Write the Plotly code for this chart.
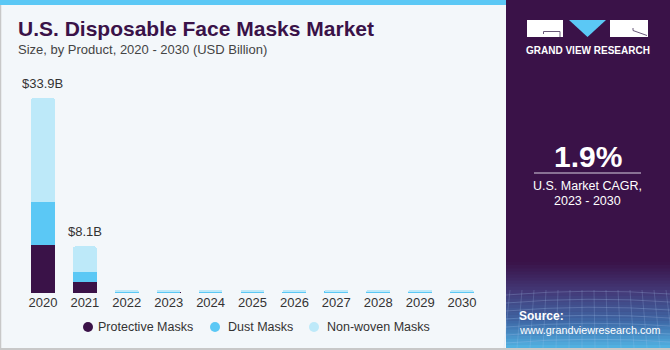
import plotly.graph_objects as go

W, H = 670, 350

years = [2020, 2021, 2022, 2023, 2024, 2025, 2026, 2027, 2028, 2029, 2030]
protective = [8.35, 1.95, 0.05, 0.05, 0.05, 0.05, 0.05, 0.06, 0.06, 0.06, 0.06]
dust = [7.45, 1.75, 0.14, 0.14, 0.15, 0.15, 0.15, 0.16, 0.16, 0.16, 0.17]
nonwoven = [18.10, 4.40, 0.17, 0.17, 0.17, 0.18, 0.18, 0.18, 0.19, 0.19, 0.19]
total_labels = {2020: "$33.9B", 2021: "$8.1B"}

series = [
    ("Protective Masks", protective, "#3a1248"),
    ("Dust Masks", dust, "#5bc8f5"),
    ("Non-woven Masks", nonwoven, "#bde9f9"),
]

PANEL = "#3a1248"
BG = "#f3f7fa"


def px(x):
    return x / W


def py(y):
    return 1 - y / H


fig = go.Figure()
for name, vals, color in series:
    fig.add_trace(go.Bar(x=years, y=vals, name=name, marker_color=color,
                         marker_line_width=0, width=0.57, showlegend=False))

shapes = []
annotations = []

# labels above the first two stacks
for yr, lab in total_labels.items():
    i = years.index(yr)
    tot = protective[i] + dust[i] + nonwoven[i]
    annotations.append(dict(x=yr, y=tot, xref="x", yref="y", text=lab, showarrow=False,
                            yanchor="bottom", yshift=5,
                            font=dict(size=13, color="#333333")))

# frame: top stripe, left and bottom borders
shapes.append(dict(type="rect", xref="paper", yref="paper", x0=0, x1=px(506), y0=py(5), y1=1,
                   fillcolor="#5bc8f5", line_width=0, layer="below"))
shapes.append(dict(type="line", xref="paper", yref="paper", x0=px(0.5), x1=px(0.5), y0=0, y1=py(5),
                   line=dict(color="#c8c8c8", width=1.5)))
shapes.append(dict(type="line", xref="paper", yref="paper", x0=0, x1=1, y0=py(349), y1=py(349),
                   line=dict(color="#c8c8c8", width=2)))

# right info panel
shapes.append(dict(type="rect", xref="paper", yref="paper", x0=px(506), x1=1, y0=py(348), y1=1,
                   fillcolor=PANEL, line_width=0, layer="below"))


def mix(c1, c2, t):
    a = [int(c1[i:i + 2], 16) for i in (1, 3, 5)]
    b = [int(c2[i:i + 2], 16) for i in (1, 3, 5)]
    return "#" + "".join(f"{round(a[k] + (b[k] - a[k]) * t):02x}" for k in range(3))


# gradient at the foot of the panel
g_top, g_bot = 262, 348
steps = 28
stops = [(0.0, PANEL), (0.35, "#433a78"), (0.7, "#3f6aa8"), (1.0, "#52b4e4")]
for s in range(steps):
    t = (s + 0.5) / steps
    for j in range(len(stops) - 1):
        if stops[j][0] <= t <= stops[j + 1][0]:
            lt = (t - stops[j][0]) / (stops[j + 1][0] - stops[j][0])
            col = mix(stops[j][1], stops[j + 1][1], lt)
            break
    y0 = g_top + (g_bot - g_top) * s / steps
    y1 = g_top + (g_bot - g_top) * (s + 1) / steps
    shapes.append(dict(type="rect", xref="paper", yref="paper", x0=px(506), x1=1,
                       y0=py(y1 + 0.5), y1=py(y0), fillcolor=col, line_width=0, layer="below"))

# faint mesh lines in the gradient
for k in range(7):
    yy = 292 + k * 8
    shapes.append(dict(type="path", xref="paper", yref="paper",
                       path=f"M {px(506)},{py(yy + 3)} Q {px(588)},{py(yy - 4)} {px(670)},{py(yy + 2)}",
                       line=dict(color="rgba(170,200,240,0.25)", width=1)))
for k in range(14):
    xx = 510 + k * 12
    shapes.append(dict(type="line", xref="paper", yref="paper",
                       x0=px(xx), x1=px(xx - 6 + k), y0=py(290), y1=py(348),
                       line=dict(color="rgba(170,200,240,0.2)", width=1)))

# logo
shapes.append(dict(type="rect", xref="paper", yref="paper", x0=px(527), x1=px(563), y0=py(37), y1=py(20),
                   fillcolor="white", line_width=0))
shapes.append(dict(type="path", xref="paper", yref="paper",
                   path=f"M {px(543.5)},{py(34)} L {px(543.5)},{py(31.5)} L {px(560)},{py(31.5)} L {px(560)},{py(37)}",
                   line=dict(color="#6a5a7a", width=1)))
shapes.append(dict(type="path", xref="paper", yref="paper",
                   path=f"M {px(569)},{py(20)} L {px(606)},{py(20)} L {px(587.5)},{py(37)} Z",
                   fillcolor="#5bc8f5", line_width=0))
shapes.append(dict(type="rect", xref="paper", yref="paper", x0=px(610), x1=px(648), y0=py(37), y1=py(20),
                   fillcolor="white", line_width=0))
shapes.append(dict(type="path", xref="paper", yref="paper",
                   path=f"M {px(633)},{py(28)} L {px(633)},{py(30.5)} L {px(647)},{py(35.5)}",
                   line=dict(color="#6a5a7a", width=1)))
annotations.append(dict(xref="paper", yref="paper", x=px(587.5), y=py(51), text="GRAND VIEW RESEARCH",
                        showarrow=False, xanchor="center", yanchor="middle",
                        font=dict(family="Liberation Sans", size=10, color="white", weight="bold")))

# CAGR block
annotations.append(dict(xref="paper", yref="paper", x=px(587.5), y=py(156), text="<b>1.9%</b>",
                        showarrow=False, xanchor="center", yanchor="middle",
                        font=dict(family="Liberation Sans", size=30, color="white")))
shapes.append(dict(type="line", xref="paper", yref="paper", x0=px(534), x1=px(641), y0=py(173), y1=py(173),
                   line=dict(color="#d8d0e0", width=1)))
annotations.append(dict(xref="paper", yref="paper", x=px(587.5), y=py(186), text="U.S. Market CAGR,",
                        showarrow=False, xanchor="center", yanchor="middle",
                        font=dict(family="Liberation Sans", size=12.5, color="white")))
annotations.append(dict(xref="paper", yref="paper", x=px(587.5), y=py(201), text="2023 - 2030",
                        showarrow=False, xanchor="center", yanchor="middle",
                        font=dict(family="Liberation Sans", size=12.5, color="white")))

# source
annotations.append(dict(xref="paper", yref="paper", x=px(517), y=py(316), text="<b>Source:</b>",
                        showarrow=False, xanchor="left", yanchor="middle",
                        font=dict(family="Liberation Sans", size=12, color="white")))
annotations.append(dict(xref="paper", yref="paper", x=px(517), y=py(330), text="www.grandviewresearch.com",
                        showarrow=False, xanchor="left", yanchor="middle",
                        font=dict(family="Liberation Sans", size=10.8, color="white")))

# title and subtitle
annotations.append(dict(xref="paper", yref="paper", x=px(16), y=py(29), text="<b>U.S. Disposable Face Masks Market</b>",
                        showarrow=False, xanchor="left", yanchor="middle",
                        font=dict(family="Liberation Sans", size=21, color="#3a1248")))
annotations.append(dict(xref="paper", yref="paper", x=px(16), y=py(49), text="Size, by Product, 2020 - 2030 (USD Billion)",
                        showarrow=False, xanchor="left", yanchor="middle",
                        font=dict(family="Liberation Sans", size=13, color="#444444")))

# legend with round markers
legend_pos = [(88, 96), (215, 226), (314, 325)]
for (name, _, color), (mx, tx) in zip(series, legend_pos):
    shapes.append(dict(type="circle", xref="paper", yref="paper",
                       x0=px(mx - 5), x1=px(mx + 5), y0=py(332), y1=py(322),
                       fillcolor=color, line_width=0))
    annotations.append(dict(xref="paper", yref="paper", x=px(tx), y=py(327), text=name,
                            showarrow=False, xanchor="left", yanchor="middle",
                            font=dict(family="Liberation Sans", size=12.5, color="#333333")))

ymax = 33.9 * (293 - 70) / (293 - 98)

fig.update_layout(
    width=W, height=H,
    margin=dict(l=0, r=0, t=0, b=0),
    paper_bgcolor=BG, plot_bgcolor=BG,
    barmode="stack", barcornerradius=2,
    font=dict(family="Liberation Sans", color="#333333"),
    xaxis=dict(type="linear", range=[years[0] - 0.5, years[-1] + 0.5], tickmode="array",
               tickvals=years, ticktext=[str(y) for y in years],
               domain=[px(22), px(483)], showgrid=False, zeroline=False, showline=False,
               ticks="", tickfont=dict(size=13, color="#333333"), fixedrange=True),
    yaxis=dict(domain=[py(293), py(70)], range=[0, ymax], visible=False, fixedrange=True),
    shapes=shapes,
    annotations=annotations,
    showlegend=False,
)

fig.write_html("out.html")
